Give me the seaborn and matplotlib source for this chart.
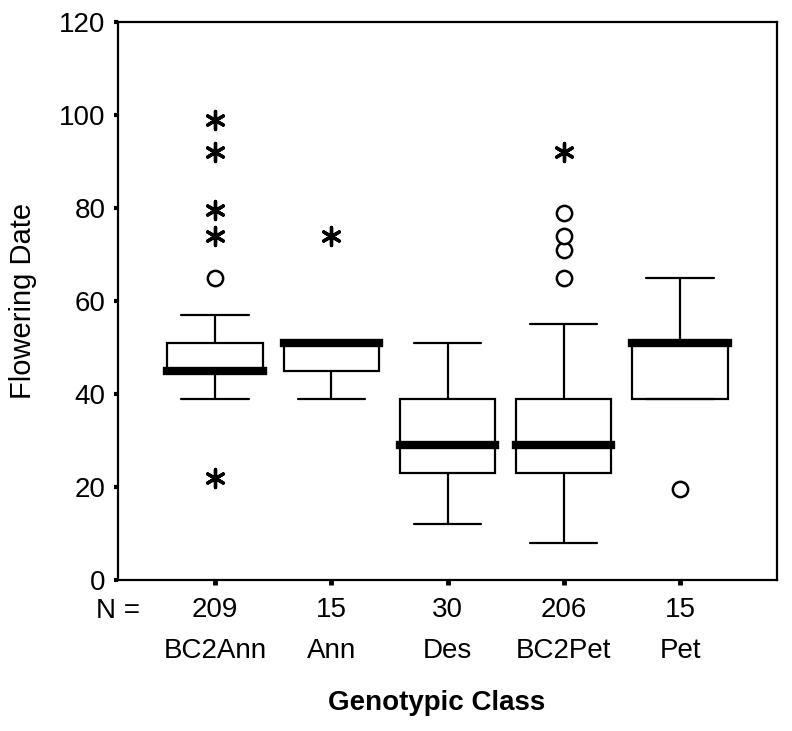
import numpy as np
import pandas as pd
import matplotlib
matplotlib.use("Agg")
import matplotlib.pyplot as plt
import seaborn as sns
from matplotlib.transforms import blended_transform_factory

# ---- data ----
groups = ["BC2Ann", "Ann", "Des", "BC2Pet", "Pet"]
counts = [209, 15, 30, 206, 15]
whisker_low = [39, 39, 12, 8, 39]
quartile1 = [45, 45, 23, 23, 39]
medians = [45, 51, 29, 29, 51]
quartile3 = [51, 51, 39, 39, 51]
whisker_high = [57, 51, 51, 55, 65]

# circles (outliers)
outlier_groups = ["BC2Ann", "BC2Pet", "BC2Pet", "BC2Pet", "BC2Pet", "Pet"]
outlier_values = [65, 65, 71, 74, 79, 19.5]
# asterisks (extreme values)
extreme_groups = ["BC2Ann", "BC2Ann", "BC2Ann", "BC2Ann", "BC2Ann", "Ann", "BC2Pet"]
extreme_values = [22, 74, 79.5, 92, 99, 74, 92]

yticks = [0, 20, 40, 60, 80, 100, 120]

sns.set_theme(style="white")
plt.rcParams["font.family"] = ["Liberation Sans", "DejaVu Sans"]

rows = []
for g, a, b, c, d, e in zip(groups, whisker_low, quartile1, medians, quartile3, whisker_high):
    for v in (a, b, c, d, e):
        rows.append({"group": g, "value": v})
summary = pd.DataFrame(rows)

W, H = 792, 731
fig = plt.figure(figsize=(W / 100, H / 100), dpi=100)
ax = fig.add_axes([118 / W, 1 - 580 / H, (777 - 118) / W, (580 - 22) / H])

sns.boxplot(
    data=summary, x="group", y="value", order=groups,
    whis=(0, 100), width=0.82, color="white", linecolor="black",
    linewidth=1.6, showfliers=False, capwidths=0.58,
    medianprops=dict(linewidth=6, color="black", solid_capstyle="projecting"),
    ax=ax,
)

sns.stripplot(
    x=outlier_groups, y=outlier_values, order=groups, jitter=False,
    marker="o", size=11, color="white", edgecolor="black", linewidth=1.8,
    ax=ax, zorder=5,
)
sns.stripplot(
    x=extreme_groups, y=extreme_values, order=groups, jitter=False,
    marker=(6, 2, 0), size=13, color="black", edgecolor="black", linewidth=2.4,
    ax=ax, zorder=5,
)

ax.set_xlim(-0.834, 4.834)
ax.set_ylim(0, 120)
ax.set_yticks(yticks)
ax.set_yticklabels([str(v) for v in yticks])
ax.set_xticks(range(len(groups)))
ax.set_xticklabels([str(c) for c in counts])
ax.set_xlabel("")
ax.set_ylabel("")

ax.tick_params(axis="y", left=True, direction="out", length=3, width=3,
               labelsize=20, pad=6, color="black", labelcolor="black")
ax.tick_params(axis="x", bottom=True, direction="out", length=3.5, width=3.5,
               labelsize=20, pad=9, color="black", labelcolor="black")

for s in ax.spines.values():
    s.set_visible(True)
    s.set_color("black")
    s.set_linewidth(1.6)

trans = blended_transform_factory(ax.transData, ax.transAxes)
for i, name in enumerate(groups):
    ax.annotate(name, xy=(i, 0), xycoords=trans, xytext=(0, -56),
                textcoords="offset points", ha="center", va="baseline",
                fontsize=20, color="black")

ax.annotate("N =", xy=(0, 0), xycoords="axes fraction", xytext=(0, -27.4),
            textcoords="offset points", ha="center", va="baseline",
            fontsize=20, color="black")

fig.text(437 / W, 1 - 703 / H, "Genotypic Class", fontsize=20,
         fontweight="bold", ha="center", va="center", color="black")
fig.text(23 / W, 1 - 301 / H, "Flowering Date", rotation=90, fontsize=21,
         ha="center", va="center", color="black")

fig.savefig("out.png", dpi=100, facecolor="white")
